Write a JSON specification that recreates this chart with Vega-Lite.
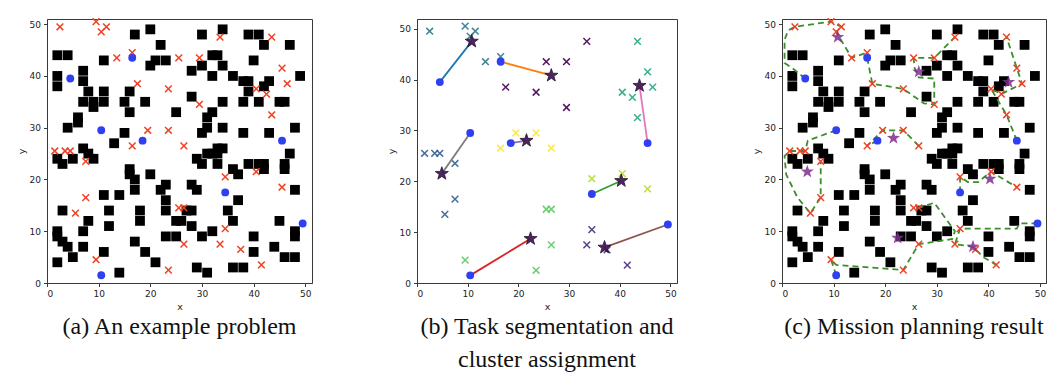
{
  "$schema": "https://vega.github.io/schema/vega-lite/v6.json",
  "background": "white",
  "padding": {"left": 15, "top": 14, "right": 2, "bottom": 0},
  "spacing": 72,
  "config": {
    "view": {"stroke": "#3a3a3a", "strokeWidth": 1},
    "axis": {"domainColor": "#3a3a3a", "tickColor": "#3a3a3a", "tickSize": 3.5, "labelFont": "DejaVu Sans", "labelFontSize": 9, "labelColor": "#222", "titleFont": "DejaVu Sans", "titleFontSize": 9.5, "titleFontWeight": "normal", "titleColor": "#222", "grid": false, "labelPadding": 3, "titlePadding": 3, "values": [0, 10, 20, 30, 40, 50]},
    "title": {"orient": "bottom", "font": "Liberation Serif", "fontSize": 24, "fontWeight": "normal", "color": "#111", "offset": 4, "anchor": "middle", "lineHeight": 33}
  },
  "datasets": {
    "obstacles": [
      {"x":20,"y":49},{"x":17,"y":48},{"x":30,"y":48},{"x":34,"y":49},{"x":39,"y":48},{"x":41,"y":48},{"x":42,"y":46},{"x":47,"y":46},{"x":22,"y":46},
      {"x":2,"y":44},{"x":4,"y":44},{"x":11,"y":43},{"x":21,"y":43},{"x":23,"y":43},{"x":20,"y":42},
      {"x":32,"y":44},{"x":33,"y":44},{"x":30,"y":42},{"x":34,"y":42},{"x":28,"y":41},{"x":32,"y":40},{"x":36,"y":40},{"x":40,"y":43},
      {"x":2,"y":40},{"x":2,"y":38},{"x":7,"y":41},{"x":7,"y":39},{"x":8,"y":37},{"x":7,"y":35},{"x":9,"y":35},{"x":11,"y":35},{"x":9,"y":34},{"x":11,"y":37},
      {"x":16,"y":37},{"x":15,"y":35},{"x":16,"y":33},{"x":19,"y":35},{"x":25,"y":33},{"x":28,"y":36},
      {"x":38,"y":39},{"x":39,"y":39},{"x":39,"y":37},{"x":38,"y":35},{"x":41,"y":35},{"x":42,"y":38},{"x":43,"y":39},{"x":49,"y":40},{"x":45,"y":35},{"x":46,"y":35},{"x":34,"y":35},
      {"x":6,"y":32},{"x":6,"y":31},{"x":4,"y":30},{"x":15,"y":29},{"x":13,"y":27},
      {"x":32,"y":33},{"x":31,"y":32},{"x":31,"y":30},{"x":30,"y":29},{"x":34,"y":30},{"x":38,"y":29},{"x":43,"y":29},{"x":48,"y":30},
      {"x":2,"y":24},{"x":3,"y":23},{"x":5,"y":24},{"x":7,"y":26},{"x":8,"y":25},{"x":9,"y":24},
      {"x":29,"y":24},{"x":30,"y":23},{"x":31,"y":25},{"x":32,"y":25},{"x":33,"y":25},{"x":33,"y":26},{"x":34,"y":26},{"x":33,"y":23},
      {"x":36,"y":22},{"x":37,"y":21},{"x":39,"y":23},{"x":41,"y":23},{"x":42,"y":23},{"x":42,"y":22},{"x":46,"y":23},{"x":46,"y":22},{"x":47,"y":25},
      {"x":16,"y":22},{"x":16,"y":21},{"x":17,"y":20},{"x":17,"y":18},{"x":20,"y":21},{"x":23,"y":19},{"x":22,"y":18},{"x":23,"y":16},{"x":23,"y":14},
      {"x":28,"y":19},{"x":29,"y":18},{"x":48,"y":18},
      {"x":11,"y":17},{"x":14,"y":17},{"x":3,"y":14},{"x":12,"y":14},{"x":18,"y":14},{"x":18,"y":12},{"x":12,"y":11},{"x":8,"y":12},{"x":7,"y":10},
      {"x":37,"y":16},{"x":35,"y":14},{"x":36,"y":12},{"x":25,"y":12},{"x":26,"y":12},{"x":27,"y":14},{"x":28,"y":14},{"x":28,"y":11},
      {"x":2,"y":10},{"x":2,"y":9},{"x":3,"y":8},{"x":4,"y":7},{"x":5,"y":5},{"x":2,"y":4},{"x":7,"y":7},{"x":11,"y":6},{"x":14,"y":2},{"x":17,"y":8},{"x":19,"y":6},{"x":21,"y":4},
      {"x":23,"y":9},{"x":25,"y":9},{"x":30,"y":9},{"x":32,"y":10},{"x":40,"y":9},{"x":40,"y":6},{"x":44,"y":7},{"x":46,"y":5},{"x":48,"y":5},{"x":48,"y":10},{"x":48,"y":9},{"x":45,"y":12},
      {"x":29,"y":3},{"x":31,"y":2},{"x":36,"y":3},{"x":38,"y":3}
    ],
    "tasks": [
      {"x":2.5,"y":49.5,"c":"A"},{"x":9.5,"y":50.5,"c":"A"},{"x":11.5,"y":49.5,"c":"A"},{"x":10.5,"y":48.5,"c":"A"},{"x":13.5,"y":43.5,"c":"A"},{"x":16.5,"y":44.5,"c":"A"},
      {"x":33.5,"y":47.5,"c":"B"},{"x":25.5,"y":43.5,"c":"B"},{"x":29.5,"y":43.5,"c":"B"},{"x":17.5,"y":38.5,"c":"B"},{"x":23.5,"y":37.5,"c":"B"},{"x":29.5,"y":34.5,"c":"B"},
      {"x":43.5,"y":47.5,"c":"C"},{"x":45.5,"y":41.5,"c":"C"},{"x":46.5,"y":38.5,"c":"C"},{"x":40.5,"y":37.5,"c":"C"},{"x":42.5,"y":36.5,"c":"C"},{"x":43.5,"y":32.5,"c":"C"},
      {"x":1.5,"y":25.5,"c":"D"},{"x":3.5,"y":25.5,"c":"D"},{"x":4.5,"y":25.5,"c":"D"},{"x":7.5,"y":23.5,"c":"D"},{"x":7.5,"y":16.5,"c":"D"},{"x":5.5,"y":13.5,"c":"D"},
      {"x":19.5,"y":29.5,"c":"E"},{"x":23.5,"y":29.5,"c":"E"},{"x":16.5,"y":26.5,"c":"E"},{"x":26.5,"y":26.5,"c":"E"},
      {"x":34.5,"y":20.5,"c":"F"},{"x":40.5,"y":21.5,"c":"F"},{"x":45.5,"y":18.5,"c":"F"},
      {"x":25.5,"y":14.5,"c":"G"},{"x":26.5,"y":14.5,"c":"G"},{"x":26.5,"y":7.5,"c":"G"},{"x":23.5,"y":2.5,"c":"G"},{"x":9.5,"y":4.5,"c":"G"},
      {"x":34.5,"y":10.5,"c":"H"},{"x":33.5,"y":7.5,"c":"H"},{"x":37.5,"y":6.5,"c":"H"},{"x":41.5,"y":3.5,"c":"H"}
    ],
    "robots": [
      {"x":4.5,"y":39.5},{"x":16.5,"y":43.5},{"x":10.5,"y":29.5},{"x":18.5,"y":27.5},{"x":45.5,"y":27.5},{"x":34.5,"y":17.5},{"x":49.5,"y":11.5},{"x":10.5,"y":1.5}
    ],
    "stars": [
      {"x":10.8,"y":47.5},{"x":26.5,"y":40.8},{"x":43.9,"y":38.8},{"x":4.9,"y":21.5},{"x":21.6,"y":28.0},{"x":40.3,"y":20.1},{"x":22.4,"y":8.7},{"x":37.0,"y":7.0}
    ],
    "links": [
      {"r":"r1","s":0,"x":4.5,"y":39.5},{"r":"r1","s":1,"x":10.8,"y":47.5},
      {"r":"r2","s":0,"x":16.5,"y":43.5},{"r":"r2","s":1,"x":26.5,"y":40.8},
      {"r":"r3","s":0,"x":34.5,"y":17.5},{"r":"r3","s":1,"x":40.3,"y":20.1},
      {"r":"r4","s":0,"x":10.5,"y":1.5},{"r":"r4","s":1,"x":22.4,"y":8.7},
      {"r":"r5","s":0,"x":18.5,"y":27.5},{"r":"r5","s":1,"x":21.6,"y":28.0},
      {"r":"r6","s":0,"x":49.5,"y":11.5},{"r":"r6","s":1,"x":37.0,"y":7.0},
      {"r":"r7","s":0,"x":45.5,"y":27.5},{"r":"r7","s":1,"x":43.9,"y":38.8},
      {"r":"r8","s":0,"x":10.5,"y":29.5},{"r":"r8","s":1,"x":4.9,"y":21.5}
    ],
    "paths": [
      {"p":1,"s":0,"x":4.5,"y":39.5},{"p":1,"s":1,"x":2.0,"y":41.5},{"p":1,"s":2,"x":0.5,"y":42.5},{"p":1,"s":3,"x":0.5,"y":47.0},{"p":1,"s":4,"x":1.2,"y":48.8},{"p":1,"s":5,"x":2.5,"y":49.5},{"p":1,"s":6,"x":9.5,"y":50.5},{"p":1,"s":7,"x":11.5,"y":49.5},{"p":1,"s":8,"x":10.5,"y":48.5},{"p":1,"s":9,"x":13.5,"y":43.5},{"p":1,"s":10,"x":16.5,"y":44.5},
      {"p":2,"s":0,"x":16.5,"y":43.5},{"p":2,"s":1,"x":17.5,"y":38.5},{"p":2,"s":2,"x":23.5,"y":37.5},{"p":2,"s":3,"x":27.5,"y":34.7},{"p":2,"s":4,"x":29.5,"y":34.5},{"p":2,"s":5,"x":29.5,"y":39.5},{"p":2,"s":6,"x":26.5,"y":39.7},{"p":2,"s":7,"x":25.7,"y":41.5},{"p":2,"s":8,"x":25.5,"y":43.5},{"p":2,"s":9,"x":29.5,"y":43.5},{"p":2,"s":10,"x":33.5,"y":47.5},
      {"p":3,"s":0,"x":45.5,"y":27.5},{"p":3,"s":1,"x":43.5,"y":32.5},{"p":3,"s":2,"x":40.5,"y":37.5},{"p":3,"s":3,"x":42.5,"y":36.5},{"p":3,"s":4,"x":46.5,"y":38.5},{"p":3,"s":5,"x":45.5,"y":41.5},{"p":3,"s":6,"x":43.5,"y":47.5},
      {"p":4,"s":0,"x":10.5,"y":29.5},{"p":4,"s":1,"x":5.0,"y":27.5},{"p":4,"s":2,"x":4.5,"y":25.5},{"p":4,"s":3,"x":3.5,"y":25.5},{"p":4,"s":4,"x":1.5,"y":25.5},{"p":4,"s":5,"x":0.5,"y":24.5},{"p":4,"s":6,"x":0.8,"y":21.0},{"p":4,"s":7,"x":3.0,"y":16.5},{"p":4,"s":8,"x":5.5,"y":13.5},{"p":4,"s":9,"x":7.5,"y":16.5},{"p":4,"s":10,"x":7.5,"y":23.5},
      {"p":5,"s":0,"x":18.5,"y":27.5},{"p":5,"s":1,"x":16.5,"y":26.5},{"p":5,"s":2,"x":19.5,"y":29.5},{"p":5,"s":3,"x":23.5,"y":29.5},{"p":5,"s":4,"x":26.5,"y":26.5},
      {"p":6,"s":0,"x":34.5,"y":17.5},{"p":6,"s":1,"x":34.5,"y":20.5},{"p":6,"s":2,"x":36.0,"y":19.5},{"p":6,"s":3,"x":38.0,"y":19.5},{"p":6,"s":4,"x":40.5,"y":21.5},{"p":6,"s":5,"x":45.5,"y":18.5},
      {"p":7,"s":0,"x":10.5,"y":1.5},{"p":7,"s":1,"x":9.5,"y":4.5},{"p":7,"s":2,"x":10.5,"y":3.5},{"p":7,"s":3,"x":23.5,"y":2.5},{"p":7,"s":4,"x":26.5,"y":7.5},{"p":7,"s":5,"x":33.0,"y":8.5},{"p":7,"s":6,"x":33.5,"y":10.0},{"p":7,"s":7,"x":29.5,"y":15.5},{"p":7,"s":8,"x":26.5,"y":14.5},{"p":7,"s":9,"x":25.5,"y":14.5},
      {"p":8,"s":0,"x":49.5,"y":11.5},{"p":8,"s":1,"x":46.0,"y":11.5},{"p":8,"s":2,"x":45.5,"y":10.5},{"p":8,"s":3,"x":34.5,"y":10.5},{"p":8,"s":4,"x":34.0,"y":9.0},{"p":8,"s":5,"x":33.5,"y":7.5},{"p":8,"s":6,"x":37.0,"y":7.0},{"p":8,"s":7,"x":39.0,"y":5.0},{"p":8,"s":8,"x":41.5,"y":3.5}
    ]
  },
  "hconcat": [
    {
      "width": 265, "height": 264,
      "title": {"text": "(a) An example problem"},
      "encoding": {
        "x": {"field": "x", "type": "quantitative", "scale": {"domain": [0, 51.3], "nice": false, "zero": false}, "axis": {"title": "x"}},
        "y": {"field": "y", "type": "quantitative", "scale": {"domain": [0, 51], "nice": false, "zero": false}, "axis": {"title": "y"}}
      },
      "layer": [
        {"data": {"name": "obstacles"}, "mark": {"type": "point", "shape": "square", "filled": true, "size": 96, "color": "#000", "opacity": 1}},
        {"data": {"name": "tasks"}, "mark": {"type": "point", "shape": "M-1,-1L1,1M-1,1L1,-1", "filled": false, "size": 45, "strokeWidth": 1.5, "color": "#ef4123", "opacity": 1}},
        {"data": {"name": "robots"}, "mark": {"type": "point", "shape": "circle", "filled": true, "size": 62, "color": "#2f3ff2", "opacity": 1}}
      ]
    },
    {
      "width": 260, "height": 264,
      "title": {"text": ["(b) Task segmentation and", "cluster assignment"]},
      "resolve": {"scale": {"color": "independent"}},
      "encoding": {
        "x": {"field": "x", "type": "quantitative", "scale": {"domain": [0, 51.3], "nice": false, "zero": false}, "axis": {"title": "x"}},
        "y": {"field": "y", "type": "quantitative", "scale": {"domain": [0, 51.9], "nice": false, "zero": false}, "axis": {"title": "y"}}
      },
      "layer": [
        {"data": {"name": "tasks"}, "mark": {"type": "point", "shape": "M-1,-1L1,1M-1,1L1,-1", "filled": false, "size": 45, "strokeWidth": 1.5, "opacity": 0.9},
         "encoding": {"color": {"field": "c", "type": "nominal", "legend": null, "scale": {"domain": ["A","B","C","D","E","F","G","H"], "range": ["#2a788e","#440154","#22a884","#355f8d","#fde725","#b5de2b","#5ec962","#472d7b"]}}}},
        {"data": {"name": "links"}, "mark": {"type": "line", "strokeWidth": 1.8},
         "encoding": {"order": {"field": "s"}, "color": {"field": "r", "type": "nominal", "legend": null, "scale": {"domain": ["r1","r2","r3","r4","r5","r6","r7","r8"], "range": ["#1f77b4","#ff7f0e","#2ca02c","#d62728","#9467bd","#8c564b","#e377c2","#7f7f7f"]}}}},
        {"data": {"name": "robots"}, "mark": {"type": "point", "shape": "circle", "filled": true, "size": 62, "color": "#2f3ff2", "opacity": 1}},
        {"data": {"name": "stars"}, "mark": {"type": "point", "shape": "M0,-1L0.235,-0.324L0.951,-0.309L0.38,0.124L0.588,0.809L0,0.4L-0.588,0.809L-0.38,0.124L-0.951,-0.309L-0.235,-0.324Z", "filled": true, "size": 190, "color": "#451a5c", "stroke": "#1a0a20", "strokeWidth": 0.8, "opacity": 0.95}}
      ]
    },
    {
      "width": 264, "height": 264,
      "title": {"text": "(c) Mission planning result"},
      "encoding": {
        "x": {"field": "x", "type": "quantitative", "scale": {"domain": [0, 51.15], "nice": false, "zero": false}, "axis": {"title": "x"}},
        "y": {"field": "y", "type": "quantitative", "scale": {"domain": [0, 51], "nice": false, "zero": false}, "axis": {"title": "y"}}
      },
      "layer": [
        {"data": {"name": "obstacles"}, "mark": {"type": "point", "shape": "square", "filled": true, "size": 96, "color": "#000", "opacity": 1}},
        {"data": {"name": "paths"}, "mark": {"type": "line", "strokeWidth": 1.8, "strokeDash": [6, 4], "color": "#3a8f2a"},
         "encoding": {"order": {"field": "s"}, "detail": {"field": "p", "type": "nominal"}}},
        {"data": {"name": "tasks"}, "mark": {"type": "point", "shape": "M-1,-1L1,1M-1,1L1,-1", "filled": false, "size": 45, "strokeWidth": 1.5, "color": "#ef4123", "opacity": 1}},
        {"data": {"name": "robots"}, "mark": {"type": "point", "shape": "circle", "filled": true, "size": 62, "color": "#2f3ff2", "opacity": 1}},
        {"data": {"name": "stars"}, "mark": {"type": "point", "shape": "M0,-1L0.235,-0.324L0.951,-0.309L0.38,0.124L0.588,0.809L0,0.4L-0.588,0.809L-0.38,0.124L-0.951,-0.309L-0.235,-0.324Z", "filled": true, "size": 190, "color": "#7e2f8e", "opacity": 0.85}}
      ]
    }
  ]
}
